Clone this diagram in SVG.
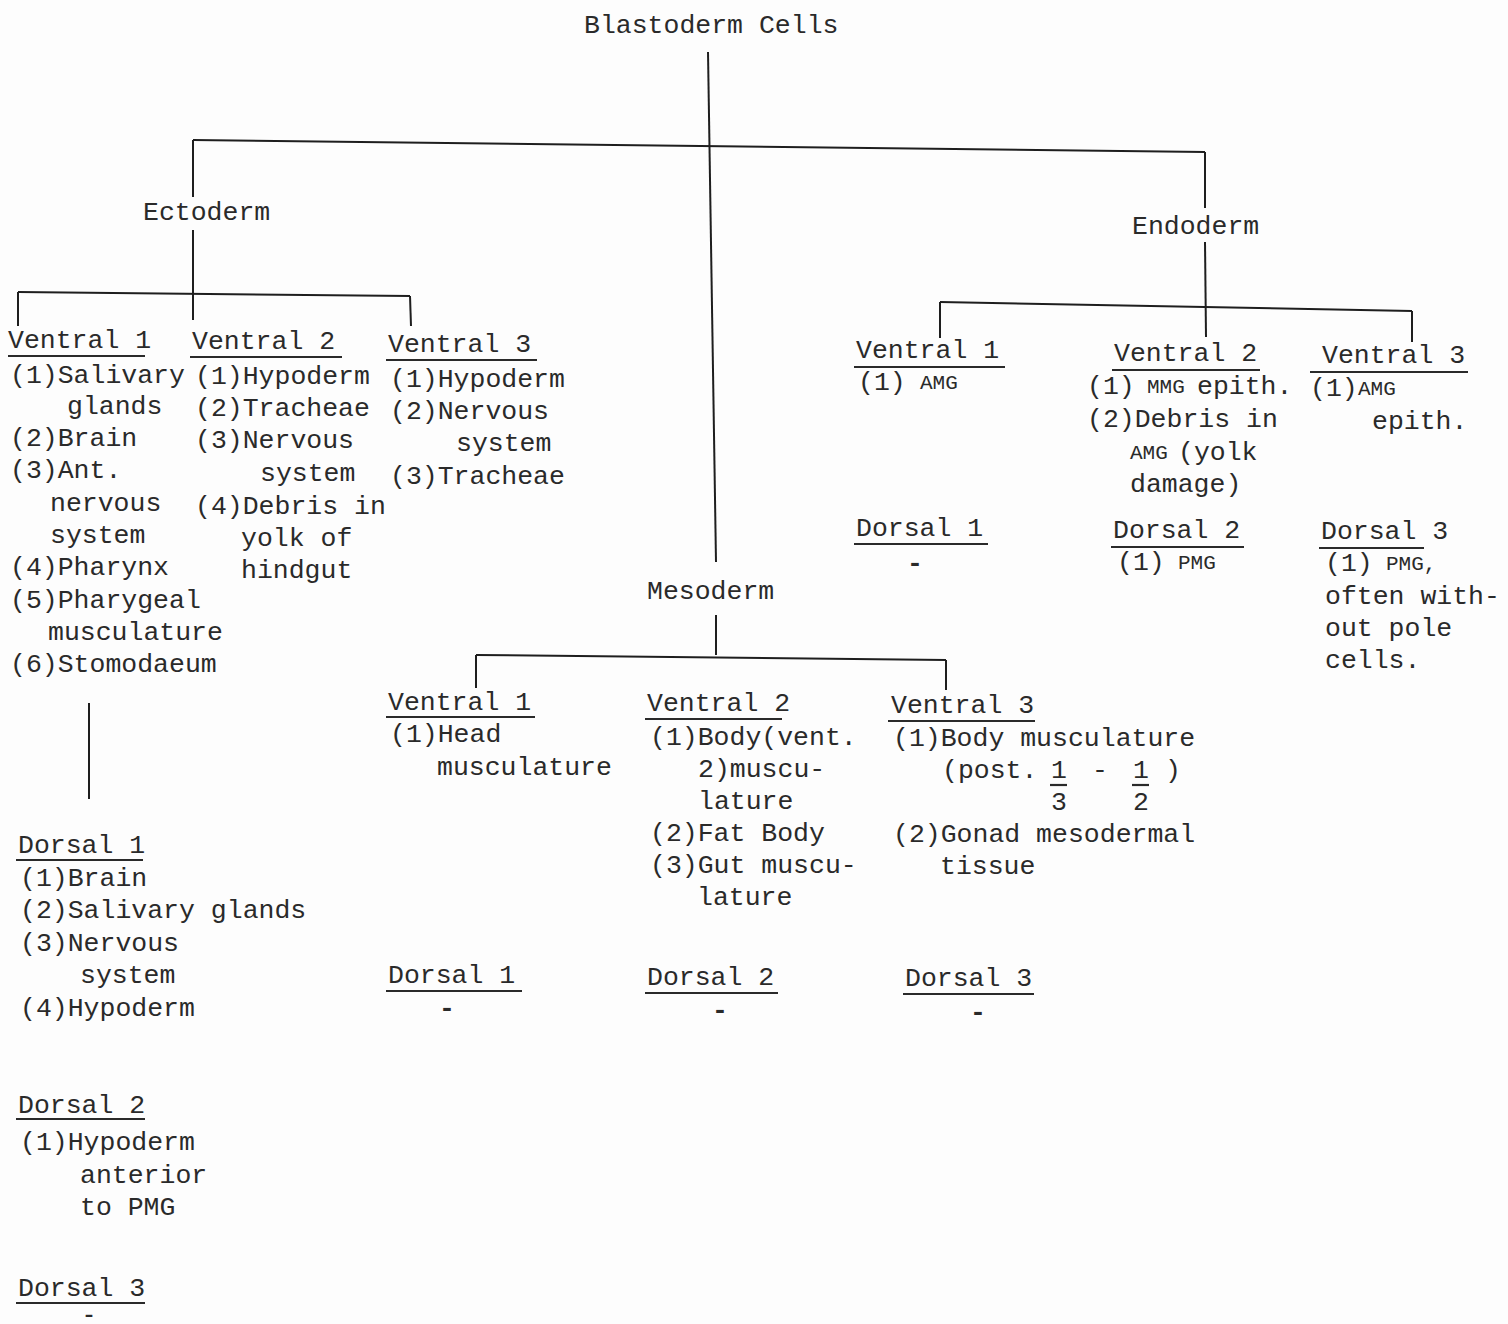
<svg xmlns="http://www.w3.org/2000/svg" width="1508" height="1324" viewBox="0 0 1508 1324">
<style>
text{font-family:"Liberation Mono","Courier New",monospace;font-size:26.5px;fill:#2a2a2a;}
.sm{font-size:21px;}
.d{font-weight:bold;}
.c line{stroke:#1e1e1e;stroke-width:2;}
.u{stroke:#2a2a2a;stroke-width:2.2;}
</style>
<rect width="1508" height="1324" fill="#fdfdfd"/>
<g id="connectors" class="c">
<line x1="708" y1="52" x2="716" y2="562"/>
<line x1="193" y1="140" x2="1205" y2="152"/>
<line x1="193" y1="140" x2="193" y2="197"/>
<line x1="1205" y1="152" x2="1205" y2="208"/>
<line x1="193" y1="230" x2="193" y2="320"/>
<line x1="18" y1="292" x2="410" y2="296"/>
<line x1="18" y1="292" x2="18" y2="326"/>
<line x1="410" y1="296" x2="411" y2="326"/>
<line x1="1205" y1="242" x2="1206" y2="337"/>
<line x1="940" y1="302" x2="1412" y2="311"/>
<line x1="940" y1="302" x2="940" y2="338"/>
<line x1="1412" y1="311" x2="1412" y2="342"/>
<line x1="716" y1="615" x2="716" y2="655"/>
<line x1="476" y1="655" x2="946" y2="660"/>
<line x1="476" y1="655" x2="476" y2="688"/>
<line x1="946" y1="660" x2="946" y2="690"/>
<line x1="89" y1="703" x2="89" y2="799"/>
</g>
<g id="blastoderm"><text x="584" y="33">Blastoderm Cells</text></g>
<g id="ectoderm"><text x="143" y="220">Ectoderm</text></g>
<g id="endoderm"><text x="1132" y="234">Endoderm</text></g>
<g id="mesoderm"><text x="647" y="599">Mesoderm</text></g>

<g id="ecto-ventral1">
<text x="8" y="348">Ventral 1</text>
<line class="u" x1="8" y1="356" x2="145" y2="356"/>
<text><tspan x="10" y="383">(1)Salivary</tspan><tspan x="67" y="414">glands</tspan><tspan x="10" y="446">(2)Brain</tspan><tspan x="10" y="478">(3)Ant.</tspan><tspan x="50" y="511">nervous</tspan><tspan x="50" y="543">system</tspan><tspan x="10" y="575">(4)Pharynx</tspan><tspan x="10" y="608">(5)Pharygeal</tspan><tspan x="48" y="640">musculature</tspan><tspan x="10" y="672">(6)Stomodaeum</tspan></text>
</g>
<g id="ecto-ventral2">
<text x="192" y="349">Ventral 2</text>
<line class="u" x1="190" y1="357" x2="342" y2="357"/>
<text><tspan x="195" y="384">(1)Hypoderm</tspan><tspan x="195" y="416">(2)Tracheae</tspan><tspan x="195" y="448">(3)Nervous</tspan><tspan x="260" y="481">system</tspan><tspan x="195" y="514">(4)Debris in</tspan><tspan x="241" y="546">yolk of</tspan><tspan x="241" y="578">hindgut</tspan></text>
</g>
<g id="ecto-ventral3">
<text x="388" y="352">Ventral 3</text>
<line class="u" x1="386" y1="360" x2="537" y2="360"/>
<text><tspan x="390" y="387">(1)Hypoderm</tspan><tspan x="390" y="419">(2)Nervous</tspan><tspan x="456" y="451">system</tspan><tspan x="390" y="484">(3)Tracheae</tspan></text>
</g>
<g id="ecto-dorsal1">
<text x="18" y="853">Dorsal 1</text>
<line class="u" x1="16" y1="860" x2="143" y2="860"/>
<text><tspan x="20" y="886">(1)Brain</tspan><tspan x="20" y="918">(2)Salivary glands</tspan><tspan x="20" y="951">(3)Nervous</tspan><tspan x="80" y="983">system</tspan><tspan x="20" y="1016">(4)Hypoderm</tspan></text>
</g>
<g id="ecto-dorsal2">
<text x="18" y="1113">Dorsal 2</text>
<line class="u" x1="16" y1="1119" x2="145" y2="1119"/>
<text><tspan x="20" y="1150">(1)Hypoderm</tspan><tspan x="80" y="1183">anterior</tspan><tspan x="80" y="1215">to PMG</tspan></text>
</g>
<g id="ecto-dorsal3">
<text x="18" y="1296">Dorsal 3</text>
<line class="u" x1="16" y1="1303" x2="145" y2="1303"/>
<text class="d" x="82" y="1321" style="font-size:18px" textLength="14" lengthAdjust="spacingAndGlyphs">-</text>
</g>

<g id="meso-ventral1">
<text x="388" y="710">Ventral 1</text>
<line class="u" x1="386" y1="717" x2="535" y2="717"/>
<text><tspan x="390" y="742">(1)Head</tspan><tspan x="437" y="775">musculature</tspan></text>
</g>
<g id="meso-ventral2">
<text x="647" y="711">Ventral 2</text>
<line class="u" x1="645" y1="719" x2="782" y2="719"/>
<text><tspan x="650" y="745">(1)Body(vent.</tspan><tspan x="698" y="777">2)muscu-</tspan><tspan x="698" y="809">lature</tspan><tspan x="650" y="841">(2)Fat Body</tspan><tspan x="650" y="873">(3)Gut muscu-</tspan><tspan x="697" y="905">lature</tspan></text>
</g>
<g id="meso-ventral3">
<text x="891" y="713">Ventral 3</text>
<line class="u" x1="888" y1="721" x2="1035" y2="721"/>
<text><tspan x="893" y="746">(1)Body musculature</tspan><tspan x="942" y="778">(post.</tspan><tspan x="1051" y="778">1</tspan><tspan x="1092" y="778">-</tspan><tspan x="1133" y="778">1</tspan><tspan x="1165" y="778">)</tspan><tspan x="1051" y="810">3</tspan><tspan x="1133" y="810">2</tspan><tspan x="893" y="842">(2)Gonad mesodermal</tspan><tspan x="940" y="874">tissue</tspan></text>
<line class="u" x1="1050" y1="785" x2="1067" y2="785"/>
<line class="u" x1="1132" y1="785" x2="1149" y2="785"/>
</g>
<g id="meso-dorsal1">
<text x="388" y="983">Dorsal 1</text>
<line class="u" x1="386" y1="991" x2="522" y2="991"/>
<text class="d" x="439" y="1016">-</text>
</g>
<g id="meso-dorsal2">
<text x="647" y="985">Dorsal 2</text>
<line class="u" x1="645" y1="993" x2="778" y2="993"/>
<text class="d" x="712" y="1018">-</text>
</g>
<g id="meso-dorsal3">
<text x="905" y="986">Dorsal 3</text>
<line class="u" x1="903" y1="994" x2="1034" y2="994"/>
<text class="d" x="970" y="1020">-</text>
</g>

<g id="endo-ventral1">
<text x="856" y="358">Ventral 1</text>
<line class="u" x1="854" y1="367" x2="1005" y2="367"/>
<text><tspan x="858" y="390">(1) </tspan><tspan class="sm" x="920" y="389">AMG</tspan></text>
</g>
<g id="endo-ventral2">
<text x="1114" y="361">Ventral 2</text>
<line class="u" x1="1112" y1="370" x2="1260" y2="370"/>
<text><tspan x="1087" y="394">(1) </tspan><tspan class="sm" x="1147" y="393">MMG</tspan><tspan x="1197" y="394">epith.</tspan><tspan x="1087" y="427">(2)Debris in</tspan><tspan class="sm" x="1130" y="459">AMG</tspan><tspan x="1178" y="460">(yolk</tspan><tspan x="1130" y="492">damage)</tspan></text>
</g>
<g id="endo-ventral3">
<text x="1322" y="363">Ventral 3</text>
<line class="u" x1="1310" y1="372" x2="1468" y2="372"/>
<text><tspan x="1310" y="396">(1)</tspan><tspan class="sm" x="1358" y="395">AMG</tspan><tspan x="1372" y="429">epith.</tspan></text>
</g>
<g id="endo-dorsal1">
<text x="856" y="536">Dorsal 1</text>
<line class="u" x1="854" y1="544" x2="988" y2="544"/>
<text class="d" x="907" y="571">-</text>
</g>
<g id="endo-dorsal2">
<text x="1113" y="538">Dorsal 2</text>
<line class="u" x1="1111" y1="547" x2="1244" y2="547"/>
<text><tspan x="1117" y="570">(1) </tspan><tspan class="sm" x="1178" y="569">PMG</tspan></text>
</g>
<g id="endo-dorsal3">
<text x="1321" y="539">Dorsal 3</text>
<line class="u" x1="1319" y1="548" x2="1424" y2="548"/>
<text><tspan x="1325" y="571">(1) </tspan><tspan class="sm" x="1386" y="570">PMG,</tspan><tspan x="1325" y="604">often with-</tspan><tspan x="1325" y="636">out pole</tspan><tspan x="1325" y="668">cells.</tspan></text>
</g>
</svg>
